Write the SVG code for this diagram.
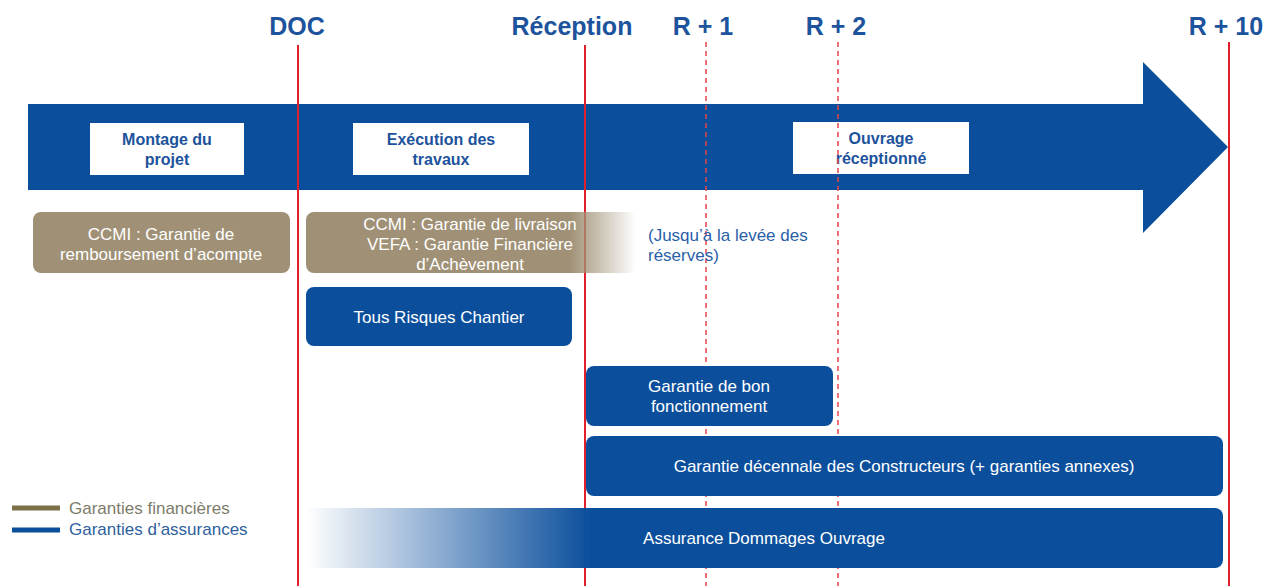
<svg xmlns="http://www.w3.org/2000/svg" width="1266" height="586" viewBox="0 0 1266 586">
<style>
.blue{fill:#0b4f9c}
.tan{fill:#a09176}
.wbox{fill:#ffffff}
.hdr{font-family:"Liberation Sans",Arial,sans-serif;font-weight:bold;font-size:25px;fill:#1d539c;text-anchor:middle}
.phase{font-family:"Liberation Sans",Arial,sans-serif;font-weight:bold;font-size:16px;fill:#1d539c;text-anchor:middle}
.lbl{font-family:"Liberation Sans",Arial,sans-serif;font-size:17px;fill:#ffffff;text-anchor:middle}
.note{font-family:"Liberation Sans",Arial,sans-serif;font-size:17px;fill:#2a5fa8}
.leg{font-family:"Liberation Sans",Arial,sans-serif;font-size:17px}
.solid{stroke:#e0202a;stroke-width:2;fill:none}
.dash{stroke:#e8434b;stroke-width:1.5;stroke-dasharray:5,4;fill:none}
</style>
<defs>
<linearGradient id="tanfade" x1="0" y1="0" x2="1" y2="0">
<stop offset="0" stop-color="#a09176"/>
<stop offset="0.8" stop-color="#a09176"/>
<stop offset="1" stop-color="#a09176" stop-opacity="0"/>
</linearGradient>
<linearGradient id="bluefade" x1="0" y1="0" x2="1" y2="0">
<stop offset="0" stop-color="#0b4f9c" stop-opacity="0"/>
<stop offset="0.31" stop-color="#0b4f9c" stop-opacity="1"/>
<stop offset="1" stop-color="#0b4f9c"/>
</linearGradient>
</defs>
<rect width="1266" height="586" fill="#ffffff"/>

<g id="arrow">
<polygon class="blue" points="28,104 1143,104 1143,62 1228,147 1143,233 1143,190 28,190"/>
</g>

<g id="phase-montage">
<rect class="wbox" x="90" y="123" width="154" height="52"/>
<text class="phase" x="167" y="145">Montage du</text>
<text class="phase" x="167" y="165">projet</text>
</g>
<g id="phase-execution">
<rect class="wbox" x="353" y="123" width="176" height="52"/>
<text class="phase" x="441" y="145">Exécution des</text>
<text class="phase" x="441" y="165">travaux</text>
</g>
<g id="phase-ouvrage">
<rect class="wbox" x="793" y="122" width="176" height="52"/>
<text class="phase" x="881" y="144">Ouvrage</text>
<text class="phase" x="881" y="164">réceptionné</text>
</g>

<g id="connectors">
<line class="solid" x1="298" y1="45" x2="298" y2="586"/>
<line class="solid" x1="585" y1="45" x2="585" y2="586"/>
<line class="solid" x1="1229" y1="42" x2="1229" y2="586"/>
<line class="dash" x1="706" y1="42" x2="706" y2="586"/>
<line class="dash" x1="838" y1="42" x2="838" y2="586"/>
</g>

<g id="milestones">
<text class="hdr" x="297" y="35">DOC</text>
<text class="hdr" x="572" y="35">Réception</text>
<text class="hdr" x="703" y="35">R + 1</text>
<text class="hdr" x="836" y="35">R + 2</text>
<text class="hdr" x="1226" y="35">R + 10</text>
</g>

<g id="ccmi-acompte">
<rect class="tan" x="33" y="212" width="257" height="61" rx="8"/>
<text class="lbl" x="161" y="240">CCMI : Garantie de</text>
<text class="lbl" x="161" y="260">remboursement d’acompte</text>
</g>
<g id="ccmi-livraison">
<rect x="306" y="212" width="330" height="61" rx="8" fill="url(#tanfade)"/>
<text class="lbl" x="470" y="230">CCMI : Garantie de livraison</text>
<text class="lbl" x="470" y="250">VEFA : Garantie Financière</text>
<text class="lbl" x="470" y="270">d’Achèvement</text>
</g>
<g id="note-reserves">
<text class="note" x="648" y="241">(Jusqu’à la levée des</text>
<text class="note" x="648" y="261">réserves)</text>
</g>
<g id="trc">
<rect class="blue" x="306" y="287" width="266" height="59" rx="8"/>
<text class="lbl" x="439" y="323">Tous Risques Chantier</text>
</g>
<g id="gbf">
<rect class="blue" x="586" y="366" width="247" height="60" rx="8"/>
<text class="lbl" x="709" y="392">Garantie de bon</text>
<text class="lbl" x="709" y="412">fonctionnement</text>
</g>
<g id="decennale">
<rect class="blue" x="586" y="436" width="637" height="60" rx="8"/>
<text class="lbl" x="904" y="472">Garantie décennale des Constructeurs (+ garanties annexes)</text>
</g>
<g id="dommages">
<rect x="306" y="508" width="917" height="60" rx="8" fill="url(#bluefade)"/>
<text class="lbl" x="764" y="544">Assurance Dommages Ouvrage</text>
</g>

<g id="legend">
<line x1="12" y1="508" x2="60" y2="508" stroke="#7b7148" stroke-width="5"/>
<text class="leg" x="69" y="514" fill="#7c7c6a">Garanties financières</text>
<line x1="12" y1="530" x2="60" y2="530" stroke="#0b4f9c" stroke-width="5"/>
<text class="leg" x="69" y="535" fill="#2f5f9e">Garanties d’assurances</text>
</g>
</svg>
